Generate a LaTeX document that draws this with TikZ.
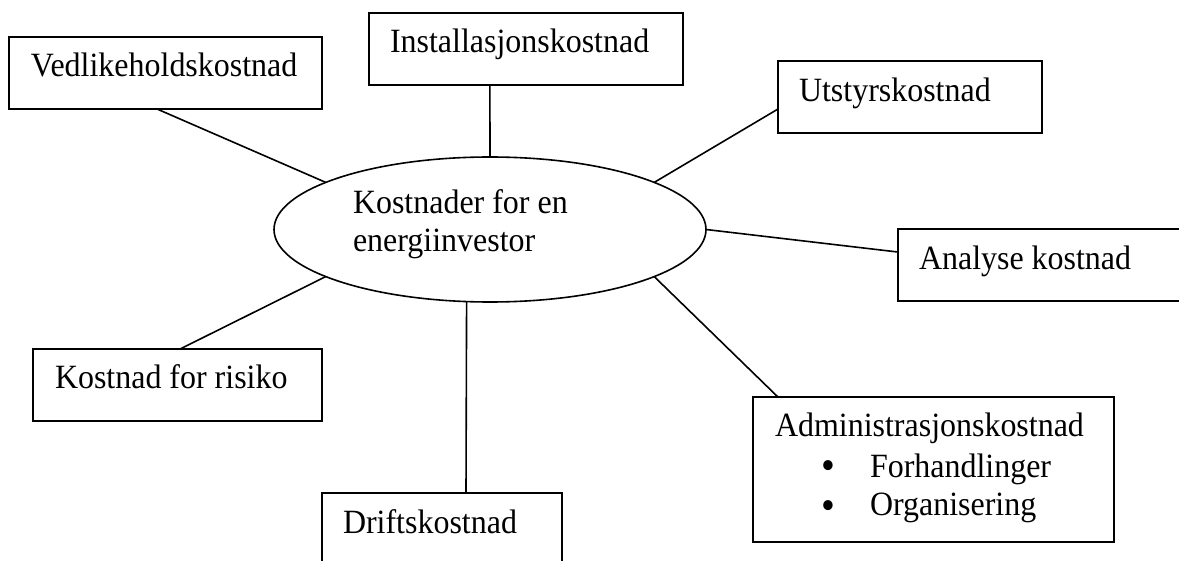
\documentclass[tikz,border=0pt]{standalone}
\usepackage{fontspec}
\setmainfont{Liberation Serif}[FakeStretch=0.94]
\usetikzlibrary{shapes.geometric,calc}
\begin{document}
\begin{tikzpicture}[x=0.5pt,y=-0.5pt,
  box/.style={draw,line width=0.8pt,rectangle,inner sep=0pt,outer sep=0pt,anchor=north west},
  lbl/.style={anchor=base west,inner sep=0pt,outer sep=0pt,font=\fontsize{17}{20}\selectfont},
  bul/.style={anchor=base,inner sep=0pt,outer sep=0pt,font=\fontsize{21}{24}\selectfont},
  conn/.style={line width=0.8pt}]
\useasboundingbox (0,0) rectangle (1179,561);
% centre ellipse
\node[draw,line width=0.8pt,ellipse,inner sep=0pt,outer sep=0pt,minimum width=216pt,minimum height=72.5pt] (ell) at (490,229.5) {};
\node[lbl] (e1) at (353,214) {Kostnader for en};
\node[lbl] (e2) at (353,252) {energiinvestor};
% boxes
\node[box,minimum width=156.5pt,minimum height=36pt] (vb) at (9,37) {};
\node[lbl] (vt) at (31,77) {Vedlikeholdskostnad};
\node[box,minimum width=157pt,minimum height=36pt] (ib) at (369,13) {};
\node[lbl] (it) at (390,53) {Installasjonskostnad};
\node[box,minimum width=132pt,minimum height=36pt] (ub) at (778,61) {};
\node[lbl] (ut) at (799,102) {Utstyrskostnad};
\node[box,minimum width=146pt,minimum height=36pt] (ab) at (898,229) {};
\node[lbl] (at) at (919,270) {Analyse kostnad};
\node[box,minimum width=180.5pt,minimum height=72.5pt] (adb) at (753,397) {};
\node[lbl] (adt) at (775,437) {Administrasjonskostnad};
\node[bul] (b1) at (828,480) {•};
\node[lbl] (f1) at (870,477) {Forhandlinger};
\node[bul] (b2) at (828,519) {•};
\node[lbl] (f2) at (870,516) {Organisering};
\node[box,minimum width=144.5pt,minimum height=36pt] (rb) at (33,349) {};
\node[lbl] (rt) at (55,389) {Kostnad for risiko};
\node[box,minimum width=120pt,minimum height=53.5pt] (db) at (322,493) {};
\node[lbl] (dt) at (343,533) {Driftskostnad};
% connectors
\draw[conn] ($(vb.south west)!0.473!(vb.south east)$) -- (ell.164);
\draw[conn] ($(ib.south west)!0.385!(ib.south east)$) -- (ell.90);
\draw[conn] ($(ub.north west)!0.667!(ub.south west)$) -- (ell.16);
\draw[conn] ($(ab.north west)!0.32!(ab.south west)$) -- (ell.0);
\draw[conn] ($(adb.north west)!0.069!(adb.north east)$) -- (ell.344);
\draw[conn] ($(db.north west)!0.6!(db.north east)$) -- (ell.252);
\draw[conn] ($(rb.north west)!0.509!(rb.north east)$) -- (ell.196);
\end{tikzpicture}
\end{document}
